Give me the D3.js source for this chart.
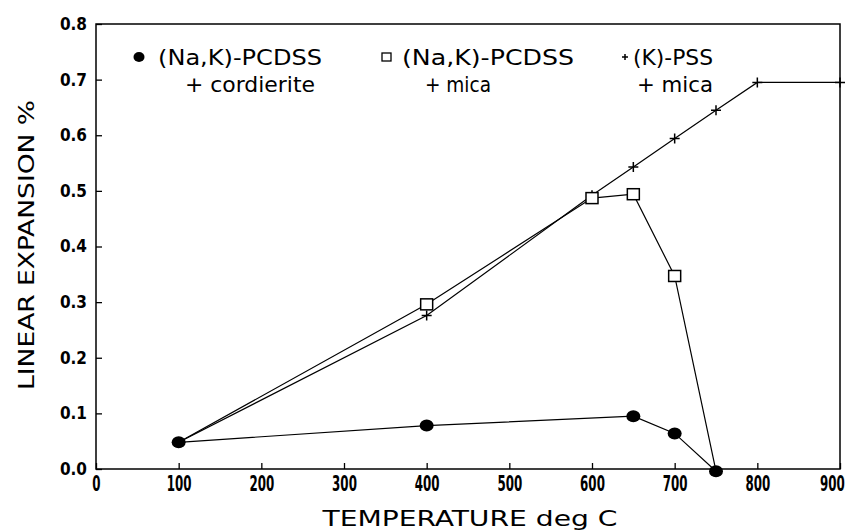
<!DOCTYPE html>
<html>
<head>
<meta charset="utf-8">
<script src="https://cdn.jsdelivr.net/npm/d3@7"></script>
<style>
  html, body { margin: 0; padding: 0; background: #fff; }
  svg { display: block; }
  text { font-family: "DejaVu Sans Condensed", "DejaVu Sans", sans-serif; fill: #000; }
</style>
</head>
<body>
<svg id="chart" width="854" height="532"></svg>
<script>
// ---- data ----
const cordieriteTemps = [100, 400, 650, 700, 750];
const cordieriteValues = [0.048, 0.078, 0.095, 0.064, -0.004];
const micaTemps = [100, 400, 600, 650, 700, 750];
const micaValues = [0.048, 0.296, 0.487, 0.494, 0.347, -0.004];
const pssTemps = [100, 400, 600, 650, 700, 750, 800, 900];
const pssValues = [0.048, 0.276, 0.492, 0.543, 0.594, 0.645, 0.695, 0.695];
const xTicks = [0, 100, 200, 300, 400, 500, 600, 700, 800, 900];
const yTicks = [0.0, 0.1, 0.2, 0.3, 0.4, 0.5, 0.6, 0.7, 0.8];
const legendLine1 = ["(Na,K)-PCDSS", "(Na,K)-PCDSS", "(K)-PSS"];
const legendLine2 = ["+ cordierite", "+ mica", "+ mica"];
const xTitle = "TEMPERATURE deg C";
const yTitle = "LINEAR EXPANSION %";

const svg = d3.select("#chart");
const L = 96, R = 840, T = 24, B = 469;
const x = d3.scaleLinear().domain([0, 900]).range([L, R]);
const y = d3.scaleLinear().domain([0, 0.8]).range([B, T]);

// frame
svg.append("rect").attr("x", L).attr("y", T).attr("width", R - L).attr("height", B - T)
  .attr("fill", "none").attr("stroke", "#000").attr("stroke-width", 1.5);

// axes
const xAxis = d3.axisBottom(x).tickValues(xTicks).tickSize(-6).tickPadding(6)
  .tickFormat(d3.format("d"));
const gx = svg.append("g").attr("transform", `translate(0,${B})`).call(xAxis);
gx.select(".domain").remove();
gx.selectAll(".tick line").attr("stroke", "#000").attr("stroke-width", 1.3);
gx.selectAll(".tick text").attr("font-size", 22).attr("font-weight", "bold").attr("dy", "0.71em")
  .attr("text-anchor", d => d === 900 ? "end" : "middle")
  .attr("x", d => d === 900 ? 7 : 0)
  .attr("transform", "scale(0.6,1)");

const yAxis = d3.axisLeft(y).tickValues(yTicks).tickSize(-6).tickPadding(9)
  .tickFormat(d3.format(".1f"));
const gy = svg.append("g").attr("transform", `translate(${L},0)`).call(yAxis);
gy.select(".domain").remove();
gy.selectAll(".tick line").attr("stroke", "#000").attr("stroke-width", 1.3);
gy.selectAll(".tick text").attr("font-size", 17).attr("font-weight", "bold")
  .attr("font-family", "'DejaVu Sans', sans-serif");

// titles
svg.append("text").attr("x", 470).attr("y", 526).attr("text-anchor", "middle")
  .attr("font-size", 21).attr("textLength", 295).attr("lengthAdjust", "spacingAndGlyphs")
  .text(xTitle);
svg.append("text").attr("transform", "translate(34,245) rotate(-90)")
  .attr("text-anchor", "middle").attr("font-size", 21)
  .attr("textLength", 290).attr("lengthAdjust", "spacingAndGlyphs").text(yTitle);

// lines
const line = d3.line().x(d => x(d[0])).y(d => y(d[1]));
const s1 = cordieriteTemps.map((t, i) => [t, cordieriteValues[i]]);
const s2 = micaTemps.map((t, i) => [t, micaValues[i]]);
const s3 = pssTemps.map((t, i) => [t, pssValues[i]]);
[s3, s2, s1].forEach(s => {
  svg.append("path").datum(s).attr("d", line).attr("fill", "none")
    .attr("stroke", "#000").attr("stroke-width", 1.2);
});

// markers
function plus(g, cx, cy, h) {
  g.append("path").attr("d", `M${cx - h},${cy}H${cx + h}M${cx},${cy - h}V${cy + h}`)
    .attr("stroke", "#000").attr("stroke-width", 1.5).attr("fill", "none");
}
s3.forEach(d => plus(svg, x(d[0]), y(d[1]), 5));
svg.selectAll(".sq").data(s2.slice(1, 5)).enter().append("rect")
  .attr("x", d => x(d[0]) - 6).attr("y", d => y(d[1]) - 5.5).attr("width", 12).attr("height", 11)
  .attr("fill", "#fff").attr("stroke", "#000").attr("stroke-width", 1.5);
svg.selectAll(".ci").data(s1).enter().append("ellipse")
  .attr("cx", d => x(d[0])).attr("cy", d => y(d[1])).attr("rx", 7).attr("ry", 6)
  .attr("fill", "#000");

// legend
const ly1 = 57, ly2 = 84;
svg.append("ellipse").attr("cx", 139).attr("cy", ly1).attr("rx", 5.5).attr("ry", 5).attr("fill", "#000");
svg.append("rect").attr("x", 382).attr("y", ly1 - 4).attr("width", 9).attr("height", 8)
  .attr("fill", "none").attr("stroke", "#000").attr("stroke-width", 1.3);
plus(svg, 625, ly1, 3);
const lx1 = [158, 402, 633], lw1 = [164, 172, 80];
const lx2 = [185, 425, 637], lw2 = [130, 66, 76];
legendLine1.forEach((t, i) => {
  svg.append("text").attr("x", lx1[i]).attr("y", ly1 + 8).attr("font-size", 21)
    .attr("textLength", lw1[i]).attr("lengthAdjust", "spacingAndGlyphs").text(t);
  svg.append("text").attr("x", lx2[i]).attr("y", ly2 + 8).attr("font-size", 21)
    .attr("textLength", lw2[i]).attr("lengthAdjust", "spacingAndGlyphs").text(legendLine2[i]);
});
</script>
</body>
</html>
